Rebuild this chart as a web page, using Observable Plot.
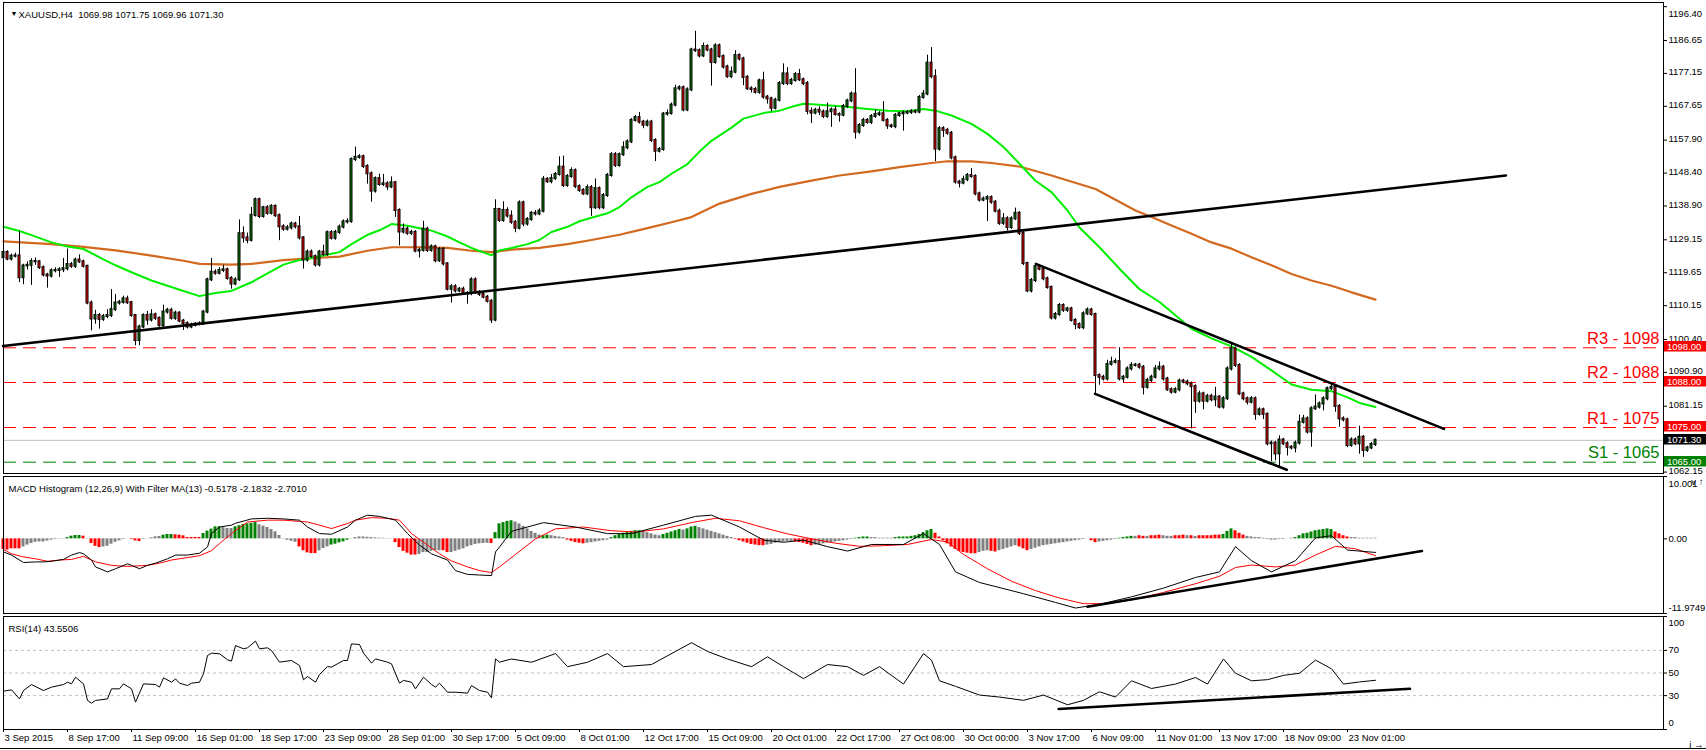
<!DOCTYPE html>
<html><head><meta charset="utf-8">
<script src="https://cdn.jsdelivr.net/npm/d3@7"></script>
<script src="https://cdn.jsdelivr.net/npm/@observablehq/plot@0.6"></script>
<style>
html,body{margin:0;padding:0;background:#fff;}
body{width:1706px;height:750px;position:relative;overflow:hidden;font-family:"Liberation Sans",Arial,sans-serif;}
.pane{position:absolute;left:0;}
.pane svg{overflow:visible;display:block;}
#base{position:absolute;left:0;top:748px;width:1706px;height:1px;background:#000;}
</style></head><body>
<div id="p1" class="pane" style="top:0px"></div>
<div id="p2" class="pane" style="top:475px"></div>
<div id="p3" class="pane" style="top:614px"></div>
<div id="base"></div>
<script>
// ---------------- DATA ----------------
const firstOpen = 1124.0;
const closes = [
1125.5,1123.6,1124.4,1124.5,1118.2,1121.6,1121.8,1122.9,1122.8,1121.1,
1119.0,1118.7,1120.2,1120.3,1120.5,1120.8,1122.0,1121.5,1123.3,1122.8,
1121.5,1110.9,1106.3,1107.3,1106.2,1107.0,1107.3,1109.0,1110.9,1111.1,
1112.1,1111.0,1107.3,1100.1,1104.0,1107.3,1106.0,1107.5,1106.5,1104.4,
1108.3,1108.8,1106.5,1108.0,1105.7,1105.0,1104.0,1104.5,1104.8,1104.9,
1108.3,1117.6,1119.8,1119.5,1120.3,1120.5,1118.0,1116.4,1117.6,1130.9,
1129.7,1129.0,1136.2,1140.7,1135.9,1138.4,1136.8,1138.8,1136.1,1132.9,
1132.2,1132.6,1133.7,1132.9,1129.7,1123.3,1125.6,1124.3,1121.9,1125.6,
1124.9,1131.2,1129.6,1131.3,1132.8,1134.3,1134.4,1152.3,1152.9,1153.1,
1150.3,1148.2,1143.2,1146.8,1145.1,1145.3,1144.4,1145.6,1137.6,1131.4,
1132.2,1131.0,1131.3,1125.9,1126.1,1132.2,1126.1,1127.1,1123.1,1126.4,
1122.2,1114.9,1115.6,1114.4,1114.9,1113.7,1113.6,1117.6,1114.0,1113.4,
1112.6,1111.4,1106.0,1137.9,1134.7,1137.6,1136.0,1134.2,1132.5,1139.8,
1133.7,1135.0,1136.8,1136.6,1137.4,1146.6,1145.9,1146.8,1148.0,1150.1,
1144.8,1147.4,1149.1,1144.5,1143.4,1142.4,1144.2,1138.4,1143.9,1138.4,
1141.9,1147.7,1153.7,1150.6,1153.7,1155.7,1157.4,1163.6,1164.4,1163.1,
1162.2,1163.1,1157.8,1154.7,1155.2,1165.4,1165.6,1168.0,1172.7,1173.0,
1166.6,1172.4,1183.9,1183.7,1182.2,1184.9,1183.9,1180.3,1185.1,1182.0,
1179.0,1176.2,1177.5,1182.3,1181.3,1176.0,1172.7,1172.5,1171.7,1175.0,
1170.3,1169.8,1167.1,1169.4,1174.2,1177.0,1174.2,1175.1,1176.8,1175.3,
1174.2,1166.2,1165.7,1166.5,1166.0,1164.7,1166.1,1166.6,1165.3,1165.1,
1167.6,1169.2,1171.2,1160.2,1162.1,1163.6,1163.0,1164.7,1165.3,1165.5,
1163.6,1162.0,1161.8,1165.0,1165.5,1165.7,1165.9,1166.1,1166.0,1170.2,
1171.2,1180.1,1176.2,1155.3,1161.2,1160.7,1159.9,1152.8,1145.8,1145.5,
1146.5,1147.7,1147.4,1142.4,1140.6,1140.9,1141.3,1140.0,1137.4,1133.9,
1135.2,1132.7,1135.2,1136.8,1131.0,1122.3,1114.4,1117.4,1121.4,1120.7,
1117.9,1115.4,1106.6,1107.6,1110.2,1108.8,1109.2,1105.9,1104.7,1103.8,
1107.8,1108.9,1107.6,1090.0,1089.5,1089.0,1093.2,1093.8,1094.0,1089.0,
1089.5,1091.9,1092.9,1093.0,1092.4,1086.6,1088.6,1089.5,1091.9,1092.4,
1089.0,1085.9,1085.2,1085.9,1088.4,1088.1,1087.6,1086.8,1082.6,1084.7,
1082.6,1084.0,1083.0,1083.8,1080.9,1083.3,1091.9,1097.7,1092.9,1084.7,
1083.3,1082.3,1083.3,1078.8,1080.1,1078.8,1070.3,1070.5,1067.4,1071.4,
1070.3,1069.3,1069.1,1070.5,1076.5,1077.5,1073.7,1080.4,1080.9,1081.8,
1083.3,1086.2,1086.6,1081.1,1077.5,1077.2,1069.8,1071.4,1070.3,1072.2,
1068.4,1069.1,1070.1,1071.3];
const upperWick = [
0.8,0.5,0.6,0.8,7.0,0.5,1.0,0.8,1.0,0.4,
0.5,0.5,0.6,0.8,0.6,3.0,4.5,0.6,0.6,1.5,
0.5,0.3,0.6,1.5,0.6,0.6,1.7,5.8,2.5,0.6,
0.8,0.8,0.4,0.3,0.5,0.5,1.2,1.5,0.5,0.4,
2.0,0.6,0.6,0.6,0.4,0.5,0.5,0.6,0.5,0.6,
0.5,0.5,4.0,0.7,0.8,1.3,0.5,0.5,0.6,4.0,
2.0,1.4,2.3,0.5,0.5,0.4,0.6,0.5,0.4,0.5,
0.6,0.7,0.6,0.5,3.0,0.3,0.6,0.6,0.5,0.5,
2.0,0.5,0.6,0.6,0.6,0.6,0.8,0.5,3.0,0.6,
0.5,0.5,0.5,0.5,1.3,2.7,0.6,1.7,0.4,0.5,
1.5,0.6,0.6,0.5,0.6,2.3,0.6,0.6,0.5,0.5,
0.5,0.4,0.6,0.6,0.5,0.6,0.5,0.6,0.6,0.5,
0.5,0.5,0.5,2.8,0.0,2.5,0.8,1.5,0.5,0.6,
0.5,0.6,0.5,0.8,0.7,0.8,0.5,1.2,0.6,3.0,
3.2,0.6,0.8,0.5,0.5,0.5,0.8,0.6,2.8,0.5,
0.6,0.6,0.6,0.6,0.5,1.7,0.6,0.5,0.6,1.5,
0.5,0.6,0.5,0.5,0.6,0.5,1.0,0.6,1.0,0.6,
0.5,0.6,0.5,5.4,0.5,1.0,0.5,0.5,0.6,0.5,
0.5,0.5,1.5,1.4,0.5,0.5,0.5,0.6,0.6,0.5,
2.5,0.5,0.5,0.6,0.6,2.9,1.8,0.6,0.6,1.5,
0.5,0.6,1.0,0.6,1.0,0.6,2.5,0.6,1.0,0.5,
0.6,0.5,0.6,7.3,0.6,0.6,0.5,0.6,1.3,0.6,
3.5,0.5,0.5,0.6,0.5,0.6,0.5,0.6,0.5,0.6,
1.0,2.3,4.5,2.0,0.6,0.6,0.6,0.5,0.5,0.5,
1.0,0.6,2.0,0.5,0.5,0.6,0.6,0.5,0.5,0.6,
1.5,0.6,0.6,1.5,0.5,0.5,0.4,0.6,0.7,0.6,
0.5,0.5,0.4,0.6,0.6,0.5,0.5,0.5,0.5,0.5,
0.6,0.6,0.5,0.4,0.5,0.6,1.2,1.5,0.8,4.0,
0.5,0.6,0.8,0.5,0.5,0.5,0.6,0.6,1.0,1.5,
0.5,0.5,0.5,0.6,0.6,0.5,0.6,0.5,0.5,0.8,
0.5,0.6,0.6,2.8,0.4,0.6,0.6,1.4,0.5,0.5,
0.5,0.5,0.6,0.5,0.6,0.5,0.4,0.6,0.5,1.2,
0.5,0.6,0.5,0.6,2.1,1.0,0.6,0.6,3.5,0.6,
0.6,0.5,1.0,0.5,0.5,0.6,0.5,0.6,0.6,3.2,
0.5,0.5,0.6,0.4];
const lowerWick = [
0.6,0.5,0.6,0.5,1.4,2.0,1.2,5.8,1.0,0.5,
0.6,3.5,0.6,0.6,2.0,0.8,0.6,0.6,0.6,0.5,
0.5,0.5,3.4,1.5,2.8,0.6,0.6,0.6,0.5,0.6,
0.5,0.5,0.5,1.5,1.5,0.5,1.5,0.6,0.6,0.5,
0.5,0.6,0.5,0.6,0.5,2.0,0.6,0.5,0.5,0.5,
0.5,0.5,0.5,0.6,0.5,0.6,0.5,1.5,0.5,0.5,
1.5,1.0,0.5,0.5,0.6,0.5,0.6,0.5,0.5,4.0,
0.6,0.5,0.6,0.6,0.6,2.6,0.6,0.5,0.6,0.6,
0.6,0.5,0.5,0.6,0.6,0.5,0.6,0.5,0.6,0.5,
0.6,3.0,3.2,0.6,0.5,0.6,1.0,0.5,2.0,4.0,
0.6,0.6,0.6,0.5,2.0,0.5,0.6,0.5,0.6,0.5,
0.6,0.5,4.0,0.6,0.5,0.5,3.0,0.6,0.5,0.6,
0.5,0.5,1.0,0.5,0.5,0.5,0.6,0.6,1.3,0.5,
0.8,0.6,0.5,0.6,0.5,0.5,0.5,0.6,0.5,0.5,
0.6,0.5,0.5,0.6,0.6,0.5,0.5,2.5,0.5,0.6,
0.5,0.5,0.5,0.6,0.5,0.5,0.6,0.5,0.5,0.6,
1.0,0.5,0.6,3.0,0.5,0.5,0.6,0.5,0.5,0.6,
0.5,0.5,0.5,0.5,0.6,0.5,0.5,6.8,0.5,0.5,
0.6,0.5,0.5,0.5,0.6,2.4,0.5,1.0,0.5,0.6,
0.6,1.5,1.0,0.5,0.5,0.5,0.6,0.5,0.5,0.5,
0.6,1.0,3.0,0.5,1.0,0.6,0.5,4.5,0.5,2.0,
0.5,0.5,0.5,2.0,0.6,0.5,0.5,0.6,0.5,0.6,
0.5,1.0,0.5,0.6,0.5,5.0,0.5,0.6,0.5,0.5,
0.5,0.5,0.6,3.6,0.6,2.0,0.6,0.6,0.6,1.4,
0.5,0.6,0.5,0.6,0.6,0.5,6.5,0.6,0.5,0.6,
0.6,1.0,0.6,0.5,0.6,0.6,0.5,0.6,0.6,0.5,
0.6,0.5,0.6,0.6,0.5,0.6,0.6,0.5,1.5,0.5,
0.6,0.5,0.5,5.3,2.3,0.6,0.6,0.5,0.5,0.6,
1.0,0.5,0.6,0.5,0.6,2.2,0.5,0.6,0.5,0.6,
0.6,0.5,0.6,0.5,0.6,0.5,0.6,12.2,3.5,0.6,
2.5,0.5,0.6,2.0,0.5,0.6,0.5,0.6,0.6,0.5,
0.6,0.8,0.5,1.7,0.5,1.5,0.6,5.2,2.0,4.0,
0.5,2.5,0.6,1.4,0.6,0.5,0.6,4.4,0.5,0.6,
2.0,0.6,0.5,1.7,2.4,0.6,0.6,0.5,0.5,3.0,
2.0,0.6,0.5,0.6];
// moving averages: [bar, price]
const maFast = [[0,1132.9],[4,1131.7],[7,1130.5],[12,1128.4],[16,1127.2],[20,1126.5],[24,1124.1],[28,1121.8],[32,1119.8],[37,1117.4],[41,1115.9],[45,1114.4],[49,1112.9],[53,1113.8],[57,1114.4],[62,1116.9],[66,1119.5],[70,1122.0],[74,1123.3],[78,1124.1],[82,1125.1],[84,1125.6],[87,1127.9],[91,1130.6],[94,1131.9],[97,1133.7],[101,1133.2],[104,1132.5],[107,1131.8],[111,1130.1],[114,1128.4],[117,1126.8],[121,1125.1],[122,1124.7],[124,1126.1],[127,1126.8],[131,1127.9],[134,1129.1],[137,1131.4],[141,1132.9],[144,1134.5],[147,1135.5],[151,1136.8],[154,1138.6],[157,1141.4],[161,1144.4],[164,1145.8],[167,1148.2],[171,1151.0],[174,1154.6],[177,1157.7],[182,1161.5],[185,1164.1],[190,1165.7],[194,1166.4],[198,1167.8],[200,1168.4],[204,1168.1],[210,1167.6],[216,1166.9],[221,1166.4],[226,1166.2],[230,1166.9],[233,1166.4],[237,1165.0],[242,1162.6],[246,1159.7],[250,1155.9],[254,1151.1],[258,1146.2],[262,1142.9],[266,1137.6],[269,1132.7],[274,1127.0],[279,1120.8],[284,1114.9],[289,1111.2],[292,1108.3],[297,1103.5],[302,1100.7],[307,1098.4],[312,1095.4],[317,1091.5],[322,1087.4],[327,1085.9],[332,1085.5],[336,1083.7],[339,1082.1],[343,1080.9]];
const maSlow = [[0,1128.7],[12,1127.9],[20,1127.1],[28,1126.1],[37,1124.6],[45,1123.1],[49,1122.2],[57,1122.0],[62,1122.2],[70,1123.3],[78,1123.9],[84,1124.3],[91,1126.0],[97,1127.0],[104,1127.0],[111,1126.8],[117,1126.0],[122,1125.6],[127,1126.3],[134,1126.8],[141,1127.9],[147,1129.1],[154,1130.6],[161,1132.5],[167,1134.2],[172,1135.7],[179,1139.6],[187,1142.4],[194,1144.4],[202,1146.2],[209,1147.7],[217,1148.9],[224,1150.1],[232,1151.3],[236,1151.8],[242,1151.8],[247,1151.3],[254,1150.3],[262,1147.7],[273,1143.8],[283,1137.6],[287,1135.7],[292,1133.3],[297,1130.9],[302,1128.4],[307,1126.6],[312,1124.1],[317,1121.8],[322,1119.3],[327,1117.4],[332,1115.9],[337,1114.0],[343,1111.9]];
const priceTrends = [
  {id: "support", pts: [[-0.125, 1098.5], [375.6, 1147.7]]},
  {id: "channelTop", pts: [[258.1, 1122.2], [360.1, 1074.6]]},
  {id: "channelBottom", pts: [[272.9, 1084.7], [320.8, 1062.8]]}
];
const levelNames = ["R3 - 1098", "R2 - 1088", "R1 - 1075", "S1 - 1065"];
const levelValues = [1098, 1088, 1075, 1065];
const levelKinds = ["res", "res", "res", "sup"];
const lastPrice = 1071.30;
const priceTicks = [1196.40, 1186.65, 1177.15, 1167.65, 1157.90, 1148.40, 1138.90, 1129.15, 1119.65, 1110.15, 1100.40, 1090.90, 1081.15, 1062.15];
const headerText = "XAUUSD,H4\u00a0\u00a01069.98 1071.75 1069.96 1071.30";

const histValues = [
-1.7,-1.8,-1.6,-1.6,-1.6,-1.3,-1.0,-0.75,-0.55,-0.5,
-0.5,-0.35,-0.2,-0.1,-0.05,0.05,0.2,0.43,0.54,0.54,
0.43,-0.05,-0.75,-1.2,-1.4,-1.3,-1.2,-0.86,-0.54,-0.32,
-0.1,0.0,-0.1,-0.32,-0.43,-0.1,0.05,0.16,0.32,0.38,
0.59,0.7,0.7,0.64,0.59,0.48,0.22,0.22,0.22,0.22,
0.86,1.24,1.56,1.93,1.93,1.8,1.66,1.66,1.93,2.1,
2.3,2.4,2.5,2.6,2.25,2.04,1.83,1.5,1.13,0.54,
0.05,-0.22,-0.38,-0.54,-1.3,-1.9,-2.25,-2.36,-2.36,-1.93,
-1.56,-1.29,-1.0,-0.86,-0.64,-0.48,-0.22,0.05,0.2,0.3,
0.3,0.25,0.2,0.15,0.1,0.1,0.05,0.05,-0.6,-1.4,
-2.0,-2.3,-2.6,-2.6,-2.5,-2.2,-2.2,-2.0,-1.9,-1.9,
-1.9,-2.2,-2.2,-2.0,-1.8,-1.6,-1.3,-1.1,-0.9,-0.8,
-0.75,-0.7,-0.75,1.0,2.4,2.6,2.8,2.9,2.7,2.4,
2.0,1.6,1.2,0.9,0.6,0.5,0.6,0.5,0.4,0.3,
0.2,-0.2,-0.4,-0.6,-0.7,-0.8,-0.7,-0.6,-0.5,-0.4,
-0.3,-0.2,0.2,0.5,0.7,0.9,1.0,1.2,1.3,1.3,
1.2,1.0,0.8,0.6,0.5,0.7,0.9,1.1,1.3,1.5,
1.4,1.6,1.9,2.0,1.8,1.6,1.4,1.2,1.0,0.8,
0.6,0.4,0.2,-0.1,-0.3,-0.5,-0.7,-0.9,-1.0,-1.1,
-1.1,-1.0,-0.9,-0.7,-0.6,-0.5,-0.4,-0.4,-0.5,-0.6,
-0.7,-0.9,-1.1,-1.0,-0.9,-0.8,-0.7,-0.6,-0.5,-0.4,
-0.3,-0.2,-0.1,0.1,0.2,0.3,0.3,0.2,0.2,0.1,
0.1,0.1,0.1,0.2,0.3,0.3,0.3,0.4,0.5,0.7,
1.0,1.3,1.5,0.9,0.3,-0.3,-0.8,-1.3,-1.7,-2.0,
-2.2,-2.3,-2.4,-2.4,-2.2,-2.0,-1.9,-2.0,-2.1,-1.9,
-1.7,-1.5,-1.3,-1.1,-1.3,-1.6,-1.9,-1.7,-1.5,-1.3,
-1.1,-1.0,-0.9,-0.8,-0.7,-0.6,-0.5,-0.4,-0.3,-0.2,
-0.1,0.0,-0.3,-0.6,-0.5,-0.4,-0.3,-0.2,-0.1,0.1,
0.2,0.3,0.4,0.4,0.5,0.4,0.4,0.5,0.5,0.6,
0.5,0.4,0.4,0.5,0.5,0.6,0.5,0.5,0.4,0.5,
0.5,0.5,0.5,0.6,0.6,0.7,1.2,1.6,1.3,0.9,
0.6,0.4,0.3,0.2,0.2,0.1,-0.1,-0.2,-0.2,-0.1,
-0.1,0.0,0.1,0.2,0.5,0.8,0.9,1.1,1.3,1.4,
1.5,1.6,1.5,1.1,0.8,0.5,0.3,0.2,0.2,0.1,
0.1,0.1,0.1,0.1];
const histCodes =
"rrrrrnnnnn"+"nnnnnngggg"+"rnrrrnnnnn"+"nnrrrnnnnn"+"gggrrrrrrr"+
"gggggnnngg"+"ggggnnnnnn"+"nnnnrrrrrn"+"nngggggnnn"+"nnnnnnnnrr"+
"rrrrnnnnnn"+"rrnnnnnnnn"+"nnrgggggnn"+"nnnnnggnnn"+"nrrrrrnnnn"+
"nngggggggg"+"nnnnnggggg"+"ngggnnnnnn"+"nnnrrrrrrr"+"rnnnnnnnrr"+
"rrrnnnnnnn"+"nnnggggnnn"+"nnnggggggg"+"gggrrrrrrr"+"rrrrnnnrrn"+
"nnnnrrrnnn"+"nnnnnnnnnn"+"nnrrnnnnng"+"gggnrrnrrr"+"nnnrrrnrnr"+
"rrrrrgggrr"+"rnnnnnnnnn"+"nnnggggggg"+"gggrrrrnnn"+"nnnn";
const macdLine = [[0,-2.1],[2,-2.6],[5,-3.8],[8,-3.7],[10,-3.7],[12,-3.6],[15,-3.3],[17,-2.6],[19,-2.2],[20,-2.4],[22,-3.4],[23,-4.5],[26,-5.3],[28,-4.8],[31,-4.0],[32,-4.25],[34,-4.8],[36,-4.25],[38,-3.9],[41,-3.2],[43,-2.6],[46,-2.6],[49,-2.3],[51,-1.3],[52,0.85],[54,1.9],[57,2.2],[58,2.5],[62,3.2],[66,3.3],[70,3.2],[74,3.0],[76,1.9],[79,0.85],[82,0.74],[86,1.9],[88,3.0],[91,3.8],[94,3.6],[98,3.0],[101,0.85],[104,-1.0],[107,-2.4],[111,-3.4],[113,-5.1],[116,-5.7],[119,-5.8],[122,-5.9],[123,-2.1],[124,-1.3],[127,1.2],[135,2.6],[143,1.9],[151,0.84],[157,0.84],[165,2.2],[173,3.6],[177,3.8],[184,1.9],[190,-0.2],[195,-0.55],[200,-0.2],[206,-1.25],[211,-1.96],[217,-0.9],[225,-0.9],[230,0.84],[234,-0.9],[238,-5.3],[244,-7.0],[255,-8.8],[263,-10.2],[268,-11.1],[274,-10.5],[282,-9.3],[290,-7.9],[298,-6.2],[304,-5.3],[308,-1.25],[312,-3.5],[317,-5.3],[323,-3.5],[328,0.15],[332,0.5],[336,-1.8],[343,-2.18]];
const signalLine = [[0,-1.7],[2,-2.4],[5,-2.9],[8,-3.2],[11,-3.6],[14,-3.4],[17,-3.3],[20,-2.8],[23,-3.7],[27,-4.25],[30,-4.4],[32,-4.4],[36,-4.25],[39,-3.9],[42,-3.4],[46,-3.0],[49,-2.7],[52,-1.9],[54,-0.76],[57,0.85],[61,2.7],[66,3.0],[70,3.0],[76,2.7],[79,2.2],[82,1.65],[86,2.46],[88,3.0],[92,3.4],[96,3.3],[99,3.0],[102,0.85],[106,-1.0],[109,-2.4],[112,-3.55],[116,-4.5],[119,-5.1],[122,-5.4],[124,-4.5],[128,-2.5],[133,0.0],[138,1.6],[145,1.9],[152,1.3],[158,1.1],[165,1.6],[172,2.6],[178,3.3],[184,2.9],[190,1.8],[196,0.8],[202,0.0],[208,-0.7],[214,-1.2],[220,-1.1],[226,-0.9],[232,-0.1],[236,-0.5],[240,-2.5],[246,-4.8],[252,-6.8],[258,-8.3],[264,-9.5],[270,-10.4],[276,-10.4],[282,-9.8],[290,-8.6],[298,-7.2],[304,-6.0],[308,-4.6],[312,-4.2],[318,-4.5],[323,-4.2],[328,-2.6],[333,-1.2],[338,-1.6],[343,-2.70]];
const macdTrend = [[271, -10.9], [354.6, -1.96]];
const macdTickValues = [10.001, 0, -11.9749];
const macdTickLabels = ["10.001", "0.00", "-11.9749"];
const macdHeader = "MACD Histogram (12,26,9) With Filter MA(13) -0.5178 -2.1832 -2.7010";

const rsiPoints = [[0,33.9],[2,35.1],[4,27.1],[5,34.5],[7,39.8],[10,34.5],[12,37.5],[15,39.8],[16,41.9],[17,40.4],[18,46.3],[20,40.4],[21,25.7],[22,23.3],[23,25.7],[26,27.1],[27,36],[29,36],[30,40.4],[32,36],[33,24.2],[35,40.4],[38,39.8],[39,37.5],[40,45.7],[42,41.9],[43,44.8],[44,41],[46,38.9],[47,41],[49,41.9],[50,49.3],[51,65.5],[52,67.6],[54,67],[56,61.7],[57,60.5],[58,74.3],[60,71.4],[61,72.3],[63,78.2],[64,71.4],[66,72.3],[67,69.9],[69,59.6],[72,61.1],[74,56.6],[75,44],[76,46.9],[78,41.9],[79,48.7],[81,55.7],[82,55.2],[85,61.1],[86,61.1],[87,75.8],[89,75.2],[90,67.6],[92,58.7],[93,62.5],[96,59.6],[97,58.1],[99,41],[100,43.4],[102,41.9],[103,36],[105,46.3],[107,39.8],[108,37.5],[109,41],[111,33],[113,33],[116,32.2],[117,38.9],[119,34.5],[121,33],[122,28],[123,62.5],[124,59.6],[127,62.4],[132,59.5],[138,67.2],[141,55.6],[146,59.5],[151,67.2],[155,55.6],[162,57.5],[168,69.1],[172,76.8],[176,69.1],[181,62.4],[187,55.6],[191,64.3],[195,55.6],[200,45],[206,57.5],[211,55.6],[215,47.9],[219,55.6],[225,40.2],[230,67.2],[232,61.4],[234,43.1],[238,38.2],[244,30.5],[249,28.7],[255,25.8],[260,30.5],[266,21.9],[270,25.8],[274,33.4],[278,28.7],[282,43.1],[287,36.3],[293,40.2],[298,46],[301,40.2],[305,62.4],[308,49.8],[312,43.1],[316,44.1],[320,47.9],[324,49.8],[328,61.4],[332,53.7],[335,40.2],[339,42.1],[343,43.55]];
const rsiTrend = [[263.8, 18.1], [351.6, 36.0]];
const rsiLevels = [70, 50, 30];
const rsiTickValues = [100, 70, 50, 30, 0];
const rsiHeader = "RSI(14) 43.5506";

const timeLabels = ["3 Sep 2015","8 Sep 17:00","11 Sep 09:00","16 Sep 01:00","18 Sep 17:00","23 Sep 09:00","28 Sep 01:00","30 Sep 17:00","5 Oct 09:00","8 Oct 01:00","12 Oct 17:00","15 Oct 09:00","20 Oct 01:00","22 Oct 17:00","27 Oct 08:00","30 Oct 00:00","3 Nov 17:00","6 Nov 09:00","11 Nov 01:00","13 Nov 17:00","18 Nov 09:00","23 Nov 01:00"];
const barsPerLabel = 16;

// ---------------- BUILD ----------------
const FONT = '"Liberation Sans", Arial, sans-serif';
const W = 1706, ML = 3, MR = 43;
const X_DOMAIN = [0, 415];
const style = {fontFamily: FONT, fontSize: "9.5px", color: "#000", background: "transparent", overflow: "visible"};
const UP = "#008000", DOWN = "#ff0000", MA_FAST = "#00ee00", MA_SLOW = "#d2691e";

const bars = closes.map((c, i) => {
  const o = i === 0 ? firstOpen : closes[i - 1];
  return {i, o, c, h: Math.max(o, c) + upperWick[i], l: Math.min(o, c) - lowerWick[i], up: c >= o};
});
const levels = levelValues.map((v, k) => ({value: v, label: levelNames[k], color: levelKinds[k] === "res" ? "#ff0000" : "#008000"}));
const trendRows = priceTrends.flatMap(t => t.pts.map(p => ({id: t.id, x: p[0], y: p[1]})));

const main = Plot.plot({
  width: W, height: 474, marginLeft: ML, marginRight: MR, marginTop: 2, marginBottom: 1,
  style,
  x: {domain: X_DOMAIN, axis: null},
  y: {domain: [1061.74, 1197.6], axis: null},
  marks: [
    Plot.ruleY([lastPrice], {stroke: "#c0c0c0"}),
    Plot.ruleY(levels, {y: "value", stroke: "color", strokeDasharray: "13,7"}),
    Plot.line(maSlow, {x: d => d[0], y: d => d[1], stroke: MA_SLOW, strokeWidth: 2.2}),
    Plot.line(maFast, {x: d => d[0], y: d => d[1], stroke: MA_FAST, strokeWidth: 2}),
    Plot.ruleX(bars, {x: "i", y1: "l", y2: "h", stroke: "#000"}),
    Plot.rect(bars, {x1: d => d.i - 0.25, x2: d => d.i + 0.25, y1: "o", y2: "c", fill: d => d.up ? UP : DOWN, stroke: "#000", insetTop: -0.5, insetBottom: -0.5}),
    Plot.line(trendRows, {x: "x", y: "y", z: "id", stroke: "#000", strokeWidth: 2.6}),
    Plot.text(levels, {y: "value", text: "label", frameAnchor: "right", textAnchor: "end", lineAnchor: "bottom", dx: -4, dy: -4, fill: "color", fontSize: 16.5}),
    Plot.axisY(priceTicks, {anchor: "right", tickSize: 3, tickFormat: () => ""}),
    Plot.text(priceTicks.slice(1), {y: d => d, text: d => d.toFixed(2), frameAnchor: "right", textAnchor: "start", dx: 5, dy: -1}),
    Plot.text(priceTicks.slice(0, 1), {y: d => d, text: d => d.toFixed(2), frameAnchor: "right", textAnchor: "start", dx: 5, dy: 7}),
    Plot.frame({stroke: "#000"}),
    Plot.text(["\u25BC"], {frameAnchor: "top-left", dx: 7, dy: 9, fontSize: 7}),
    Plot.text([headerText], {frameAnchor: "top-left", textAnchor: "start", dx: 15, dy: 9})
  ]
});
document.getElementById("p1").append(main);

// price boxes on the axis (positioned through the plot's own scales)
{
  const ys = main.scale("y"), xs = main.scale("x");
  const svg = d3.select(main);
  const boxes = levels.map(l => ({v: l.value, bg: l.color})).concat([{v: lastPrice, bg: "#000"}]);
  const x0 = xs.apply(X_DOMAIN[1]) + 1;
  const g = svg.append("g").attr("text-anchor", "start");
  for (const b of boxes) {
    const y = Math.round(ys.apply(b.v));
    g.append("rect").attr("x", x0).attr("y", y - 6).attr("width", W - x0).attr("height", 10.5).attr("fill", b.bg);
    g.append("text").attr("x", x0 + 3).attr("y", y - 0.7).attr("dy", "0.35em").attr("fill", "#fff")
      .attr("text-anchor", "start").attr("font-family", FONT).attr("font-size", "9.5px").text(b.v.toFixed(2));
  }
}

// MACD pane
const hist = histValues.map((v, i) => ({i, v, code: histCodes[i]}));
const histColor = {g: "#008000", r: "#ff0000", n: "#808080"};
const macd = Plot.plot({
  width: W, height: 139, marginLeft: ML, marginRight: MR, marginTop: 1, marginBottom: 1,
  style,
  x: {domain: X_DOMAIN, axis: null},
  y: {domain: [-11.9749, 10.001], axis: null},
  marks: [
    Plot.rect(hist, {x1: d => d.i - 0.375, x2: d => d.i + 0.375, y1: 0, y2: "v", fill: d => histColor[d.code]}),
    Plot.line(signalLine, {x: d => d[0], y: d => d[1], stroke: "#ff0000", strokeWidth: 1}),
    Plot.line(macdLine, {x: d => d[0], y: d => d[1], stroke: "#000", strokeWidth: 1}),
    Plot.line(macdTrend, {x: d => d[0], y: d => d[1], stroke: "#000", strokeWidth: 2.6}),
    Plot.axisY(macdTickValues, {anchor: "right", tickSize: 3, tickFormat: () => ""}),
    Plot.text([0], {y: d => d, text: () => macdTickLabels[1], frameAnchor: "right", textAnchor: "start", dx: 5}),
    Plot.text([macdTickValues[0]], {y: d => d, text: () => macdTickLabels[0], frameAnchor: "right", textAnchor: "start", dx: 5, dy: 7}),
    Plot.text([macdTickValues[2]], {y: d => d, text: () => macdTickLabels[2], frameAnchor: "right", textAnchor: "start", dx: 5, dy: -6}),
    Plot.frame({stroke: "#000"}),
    Plot.text([macdHeader], {frameAnchor: "top-left", textAnchor: "start", dx: 5, dy: 9})
  ]
});
document.getElementById("p2").append(macd);

// RSI pane
const xTicks = timeLabels.map((t, k) => ({i: k * barsPerLabel, label: t}));
const rsi = Plot.plot({
  width: W, height: 136, marginLeft: ML, marginRight: MR, marginTop: 2, marginBottom: 21,
  style,
  x: {domain: X_DOMAIN, axis: null},
  y: {domain: [0, 100], axis: null},
  marks: [
    Plot.ruleY(rsiLevels, {stroke: "#c0c0c0", strokeDasharray: "3,3"}),
    Plot.line(rsiPoints, {x: d => d[0], y: d => d[1], stroke: "#000", strokeWidth: 1}),
    Plot.line(rsiTrend, {x: d => d[0], y: d => d[1], stroke: "#000", strokeWidth: 2.6}),
    Plot.axisY(rsiTickValues, {anchor: "right", tickSize: 3, tickFormat: () => ""}),
    Plot.text(rsiLevels, {y: d => d, text: d => String(d), frameAnchor: "right", textAnchor: "start", dx: 5}),
    Plot.text([100], {y: d => d, text: d => String(d), frameAnchor: "right", textAnchor: "start", dx: 5, dy: 6}),
    Plot.text([0], {y: d => d, text: d => String(d), frameAnchor: "right", textAnchor: "start", dx: 5, dy: -7}),
    Plot.axisX(xTicks.map(d => d.i), {anchor: "bottom", tickSize: 3, tickFormat: () => ""}),
    Plot.text(xTicks, {x: "i", text: "label", frameAnchor: "bottom", textAnchor: "start", dx: 1, dy: 11}),
    Plot.frame({stroke: "#000"}),
    Plot.text([rsiHeader], {frameAnchor: "top-left", textAnchor: "start", dx: 5, dy: 9})
  ]
});
document.getElementById("p3").append(rsi);
</script>
</body></html>
